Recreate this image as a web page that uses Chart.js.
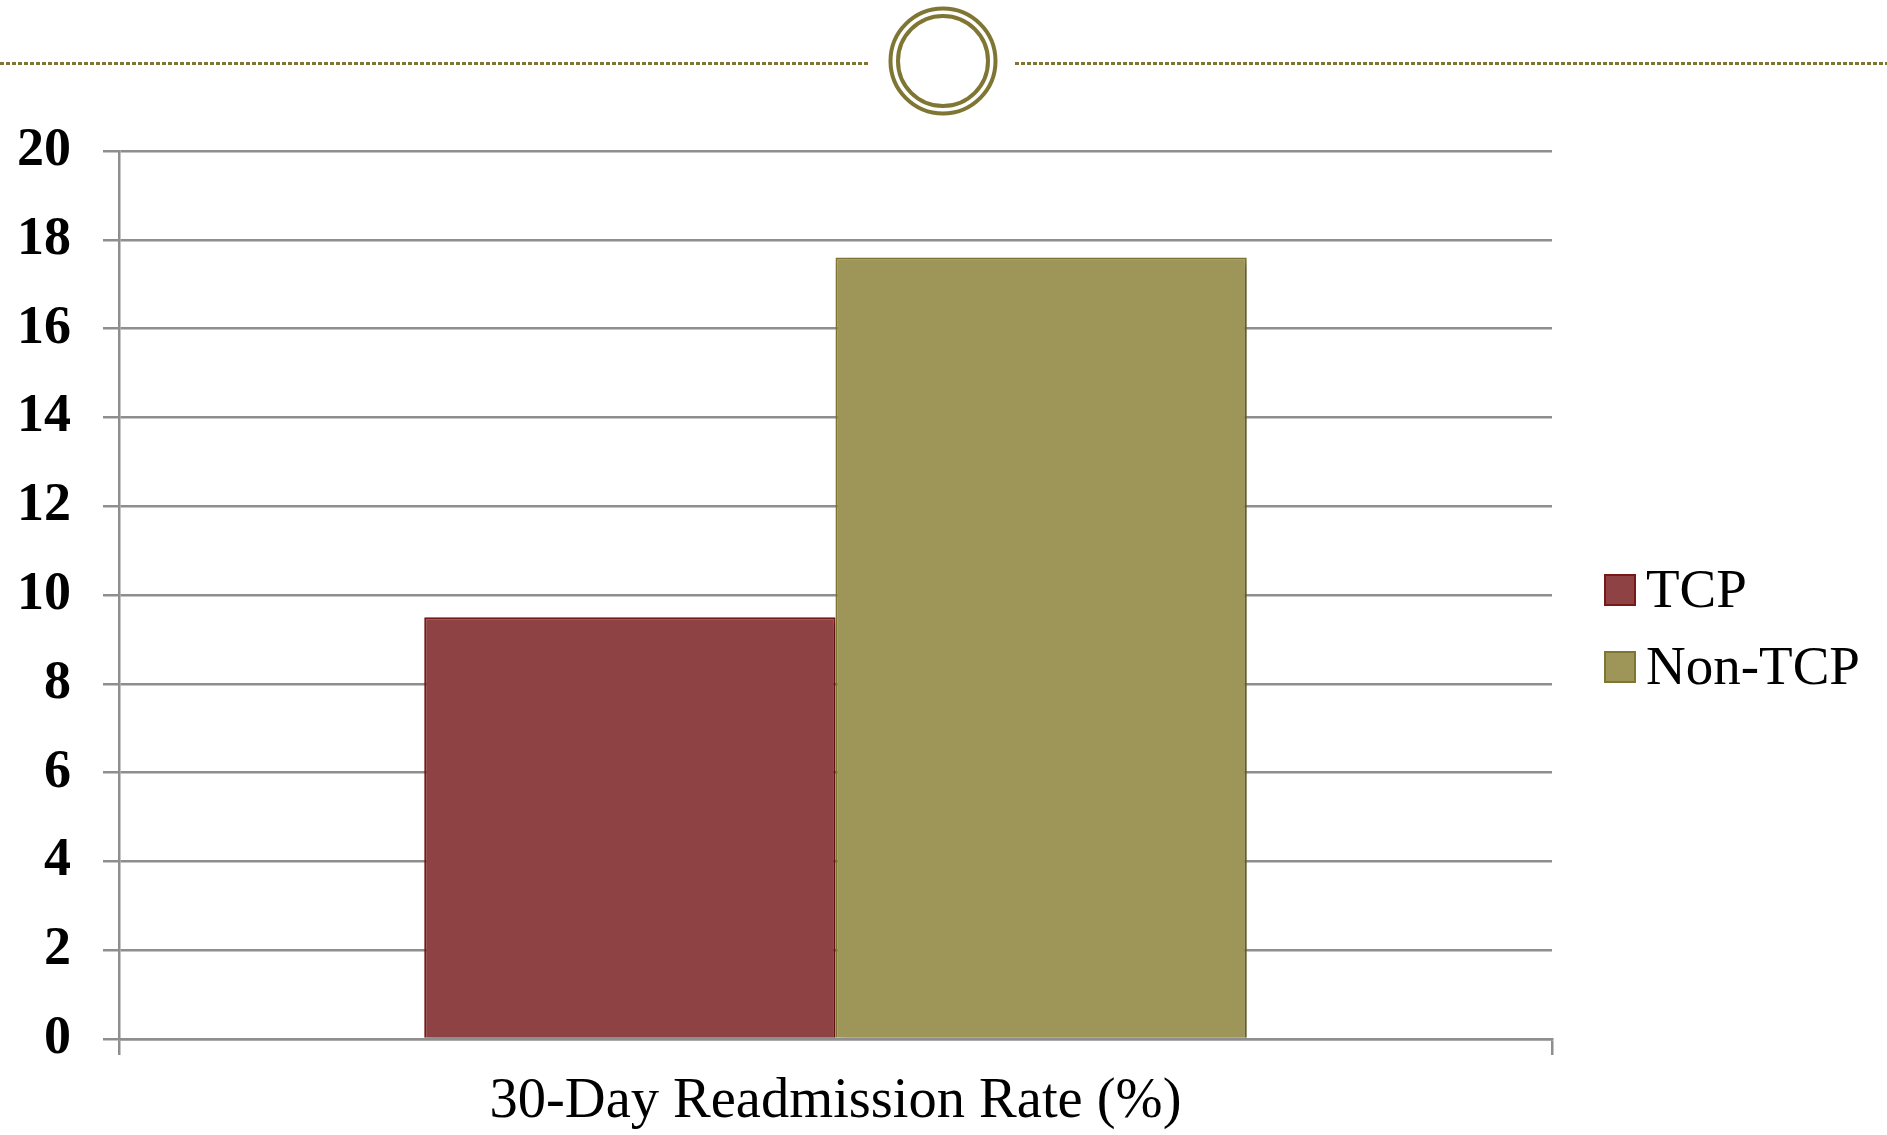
<!DOCTYPE html>
<html lang="en">
<head>
  <meta charset="UTF-8">
  <title>30-Day Readmission Rate</title>
  <script src="https://cdn.jsdelivr.net/npm/chart.js"></script>
  <style>
    html, body { margin: 0; padding: 0; background: #ffffff; }
    #wrap { width: 1887px; height: 1135px; position: relative; }
  </style>
</head>
<body>
  <div id="wrap"><canvas id="chart"></canvas></div>

  <script>
    // Chart data
    const categories = ['30-Day Readmission Rate (%)'];
    const seriesNames = ['TCP', 'Non-TCP'];
    const tcpValues = [9.5];
    const nonTcpValues = [17.6];
    const yTicks = [0, 2, 4, 6, 8, 10, 12, 14, 16, 18, 20];

    const fills = ['#8e4244', '#9e9558'];
    const borders = ['#7a1818', '#7f7633'];
    const gridGray = '#8e8e8e';
    const olive = '#7f7633';
    const serif = '"Liberation Serif", "DejaVu Serif", serif';

    // Slide decoration: dotted rule with a double ring in the middle
    const decoration = {
      id: 'decoration',
      afterDraw(chart) {
        const ctx = chart.ctx;
        ctx.save();
        ctx.strokeStyle = olive;
        ctx.lineWidth = 3;
        ctx.setLineDash([4, 2]);
        ctx.beginPath();
        ctx.moveTo(0, 63.5);
        ctx.lineTo(869, 63.5);
        ctx.moveTo(1015, 63.5);
        ctx.lineTo(1887, 63.5);
        ctx.stroke();
        ctx.setLineDash([]);
        ctx.lineWidth = 4;
        ctx.beginPath();
        ctx.arc(943, 61, 52.5, 0, Math.PI * 2);
        ctx.stroke();
        ctx.beginPath();
        ctx.arc(943, 61, 45, 0, Math.PI * 2);
        ctx.stroke();
        ctx.restore();
      }
    };

    // Legend on the right, drawn from the datasets
    const sideLegend = {
      id: 'sideLegend',
      afterDraw(chart) {
        const ctx = chart.ctx;
        ctx.save();
        ctx.font = '55px ' + serif;
        ctx.textBaseline = 'alphabetic';
        chart.data.datasets.forEach((ds, i) => {
          const top = 575 + i * 77;
          ctx.fillStyle = ds.backgroundColor;
          ctx.strokeStyle = ds.borderColor;
          ctx.lineWidth = 2;
          ctx.fillRect(1605, top, 30, 30);
          ctx.strokeRect(1605, top, 30, 30);
          ctx.fillStyle = '#000000';
          ctx.fillText(ds.label, 1646, top + 32);
        });
        ctx.restore();
      }
    };

    // Soft shadow under the bars
    const barShadow = {
      id: 'barShadow',
      beforeDatasetsDraw(chart) {
        const ctx = chart.ctx;
        ctx.save();
        ctx.shadowColor = 'rgba(0, 0, 0, 0.3)';
        ctx.shadowBlur = 7;
        ctx.shadowOffsetX = 3;
        ctx.shadowOffsetY = 4;
      },
      afterDatasetsDraw(chart) {
        chart.ctx.restore();
      }
    };

    const config = {
      type: 'bar',
      data: {
        labels: categories,
        datasets: [
          {
            label: seriesNames[0],
            data: tcpValues,
            backgroundColor: fills[0],
            borderColor: borders[0],
            borderWidth: 2
          },
          {
            label: seriesNames[1],
            data: nonTcpValues,
            backgroundColor: fills[1],
            borderColor: borders[1],
            borderWidth: 2
          }
        ]
      },
      options: {
        responsive: true,
        maintainAspectRatio: false,
        animation: false,
        layout: {
          padding: { top: 151, right: 335, bottom: 0, left: 0 }
        },
        datasets: {
          bar: { categoryPercentage: 0.574, barPercentage: 1.0 }
        },
        plugins: {
          legend: { display: false },
          tooltip: { enabled: false }
        },
        scales: {
          x: {
            afterFit(scale) { scale.height = 96; },
            grid: {
              drawOnChartArea: false,
              drawTicks: true,
              tickLength: 16,
              color: gridGray,
              lineWidth: 2.5
            },
            border: { display: true, color: gridGray, width: 2.5 },
            ticks: {
              padding: 13,
              color: '#000000',
              font: { family: serif, size: 56.5 }
            }
          },
          y: {
            min: 0,
            max: 20,
            afterFit(scale) { scale.width = 119; },
            afterBuildTicks(scale) {
              scale.ticks = yTicks.map(v => ({ value: v }));
            },
            grid: {
              color: gridGray,
              lineWidth: 2.5,
              tickLength: 16
            },
            border: { display: true, color: gridGray, width: 2.5 },
            ticks: {
              padding: 32,
              color: '#000000',
              font: { family: serif, size: 54, weight: 'bold' }
            }
          }
        }
      },
      plugins: [decoration, sideLegend, barShadow]
    };

    const ctx = document.getElementById('chart').getContext('2d');
    new Chart(ctx, config);
  </script>
</body>
</html>
